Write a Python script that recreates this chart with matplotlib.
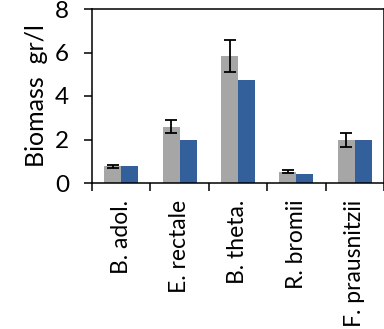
import matplotlib
matplotlib.use("Agg")
import matplotlib.pyplot as plt
import numpy as np

categories = ["B. adol.", "E. rectale", "B. theta.", "R. bromii", "F. prausnitzii"]
gray_vals = [0.76, 2.58, 5.83, 0.52, 1.98]
gray_err = [0.08, 0.30, 0.73, 0.08, 0.32]
blue_vals = [0.79, 1.99, 4.74, 0.43, 2.00]

plt.rcParams["font.family"] = ["Lato", "DejaVu Sans"]

fig = plt.figure(figsize=(3.84, 3.29), dpi=100)
ax = fig.add_axes([92 / 384, 1 - 183 / 329, 1 - 92 / 384, (183 - 9) / 329])

x = np.arange(len(categories))
w = 0.29
ax.bar(x - w / 2, gray_vals, w, color="#a6a6a6", zorder=2)
ax.bar(x + w / 2, blue_vals, w, color="#33609b", zorder=2)
ax.errorbar(x - w / 2, gray_vals, yerr=gray_err, fmt="none", ecolor="black",
            elinewidth=1.3, capsize=4.3, capthick=1.3, zorder=3)

ax.set_xlim(-0.5, len(categories) - 0.5)
ax.set_ylim(0, 8)
ax.set_yticks([0, 2, 4, 6, 8])
ax.tick_params(axis="y", labelsize=17.5, width=1.1, length=5.5, pad=11)

# boundary ticks for categories, labels at the centers
ax.set_xticks(np.arange(len(categories) + 1) - 0.5)
ax.set_xticklabels([])
ax.tick_params(axis="x", which="major", width=1.1, length=6)
ax.set_xticks(x, minor=True)
ax.set_xticklabels(categories, minor=True, rotation=90, fontsize=16.5)
ax.tick_params(axis="x", which="minor", length=0, pad=12)

ax.set_ylabel("Biomass  gr/l", fontsize=18, labelpad=5)
for s in ax.spines.values():
    s.set_linewidth(1.1)

fig.savefig("out.png", dpi=100)
